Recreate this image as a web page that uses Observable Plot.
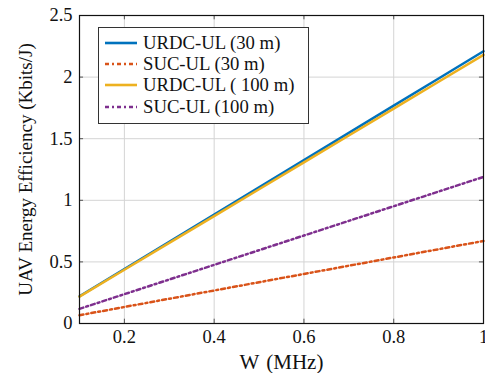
<!DOCTYPE html>
<html>
<head>
<meta charset="utf-8">
<script src="https://cdn.jsdelivr.net/npm/d3@7"></script>
<script src="https://cdn.jsdelivr.net/npm/@observablehq/plot@0.6"></script>
</head>
<body style="margin:0;background:#fff">
<div id="wrap" style="position:relative;width:485px;height:373px;font-family:'Liberation Serif';">
  <div id="legend" style="position:absolute;left:98px;top:27px;width:211px;height:97px;border:1px solid #333;background:#fff;box-sizing:border-box;padding-top:4px;font-family:'Liberation Serif';"></div>
</div>
<script>
const W = [0.1, 0.2, 0.3, 0.4, 0.5, 0.6, 0.7, 0.8, 0.9, 1.0];
const urdc30 = [0.221, 0.442, 0.663, 0.884, 1.105, 1.326, 1.547, 1.768, 1.989, 2.21];
const suc30 = [0.067, 0.134, 0.201, 0.268, 0.335, 0.402, 0.469, 0.536, 0.603, 0.67];
const urdc100 = [0.218, 0.436, 0.654, 0.872, 1.09, 1.308, 1.526, 1.744, 1.962, 2.18];
const suc100 = [0.119, 0.238, 0.357, 0.476, 0.595, 0.714, 0.833, 0.952, 1.071, 1.19];
const seriesNames = ["URDC-UL (30 m)", "SUC-UL (30 m)", "URDC-UL ( 100 m)", "SUC-UL (100 m)"];
const seriesValues = [urdc30, suc30, urdc100, suc100];
const seriesColors = ["#0072BD", "#D95319", "#EDB120", "#7E2F8E"];
const seriesDashed = [false, true, false, true];
const xTicks = [0.2, 0.4, 0.6, 0.8, 1];
const yTicks = [0, 0.5, 1, 1.5, 2, 2.5];
const yTickLabels = ["0", "0.5", "1", "1.5", "2", "2.5"];
const xTickLabels = ["0.2", "0.4", "0.6", "0.8", "1"];

const dash = "4,3,2,3";
const lineMarks = seriesValues.map((vals, i) =>
  Plot.line(W.map((w, j) => ({w, v: vals[j]})), {
    x: "w", y: "v", stroke: seriesColors[i], strokeWidth: 2.5,
    strokeDasharray: seriesDashed[i] ? dash : null
  })
);
const tk = "#555";
const plot = Plot.plot({
  width: 485, height: 373,
  marginLeft: 79, marginRight: 2, marginTop: 15, marginBottom: 50,
  style: {fontFamily: "Liberation Serif", fontSize: "18px", color: "#111", background: "#fff"},
  x: {domain: [0.1, 1]},
  y: {domain: [0, 2.5]},
  marks: [
    Plot.ruleX(xTicks, {stroke: "#d4d4d4", strokeWidth: 1, strokeOpacity: 1}),
    Plot.ruleY(yTicks, {stroke: "#d4d4d4", strokeWidth: 1, strokeOpacity: 1}),
    Plot.ruleX(xTicks, {y1: 0, y2: 0.035, stroke: tk, strokeOpacity: 1}),
    Plot.ruleX(xTicks, {y1: 2.5, y2: 2.465, stroke: tk, strokeOpacity: 1}),
    Plot.ruleY(yTicks, {x1: 0.1, x2: 0.109, stroke: tk, strokeOpacity: 1}),
    Plot.ruleY(yTicks, {x1: 1, x2: 0.991, stroke: tk, strokeOpacity: 1}),
    ...lineMarks,
    Plot.frame({stroke: "#111", strokeWidth: 1.2}),
    Plot.axisX(xTicks, {tickSize: 0, tickPadding: 6, tickFormat: (d, i) => xTickLabels[i], fontSize: 18.5,
      label: "W (MHz)", labelAnchor: "center", labelArrow: "none", labelOffset: 45}),
    Plot.axisY(yTicks, {tickSize: 0, tickPadding: 7, tickFormat: (d, i) => yTickLabels[i], fontSize: 18.5,
      label: "UAV Energy Efficiency (Kbits/J)", labelAnchor: "center", labelArrow: "none", labelOffset: 61})
  ]
});
plot.querySelectorAll("text, g").forEach(t => { t.setAttribute("font-family", "Liberation Serif"); t.style.fontFamily = "'Liberation Serif'"; });
plot.querySelectorAll("[aria-label='x-axis label'] text, [aria-label='x-axis label']").forEach(t => { t.setAttribute("font-size", "21"); t.style.wordSpacing = "2px"; });
plot.querySelectorAll("[aria-label='y-axis label'] text, [aria-label='y-axis label']").forEach(t => t.setAttribute("font-size", "19"));
document.getElementById("wrap").prepend(plot);

const leg = document.getElementById("legend");
seriesNames.forEach((name, i) => {
  const row = document.createElement("div");
  row.style.cssText = "display:flex;align-items:center;height:21.4px;font-size:18.7px;color:#111;font-family:'Liberation Serif';white-space:nowrap;";
  const da = seriesDashed[i] ? ` stroke-dasharray="${dash}"` : "";
  row.innerHTML = `<svg width="32" height="6" style="margin-left:6px;margin-right:6px;flex:none"><line x1="0" y1="3" x2="32" y2="3" stroke="${seriesColors[i]}" stroke-width="2.6"${da}/></svg><span style="font-family:'Liberation Serif'">${name}</span>`;
  leg.appendChild(row);
});
</script>
</body>
</html>
